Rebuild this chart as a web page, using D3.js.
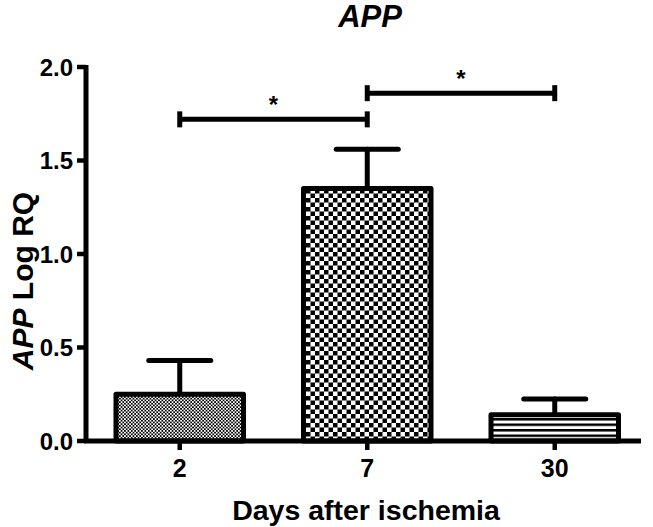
<!DOCTYPE html>
<html>
<head>
<meta charset="utf-8">
<script src="https://cdn.jsdelivr.net/npm/d3@7"></script>
<style>
  html, body { margin: 0; padding: 0; background: #fff; }
  svg { display: block; font-family: "Liberation Sans", Arial, sans-serif; }
</style>
</head>
<body>
<div id="chart"></div>
<script>
// data
const categories = ["2", "7", "30"];
const means = [0.25, 1.35, 0.14];
const errors = [0.18, 0.21, 0.085];
const patterns = ["fine", "coarse", "lines"];
const yTicks = [0, 0.5, 1.0, 1.5, 2.0];
const sigPairs = [["2", "7"], ["7", "30"]];
const sigHeights = [1.72, 1.86];
const sigLabels = ["*", "*"];

const W = 653, H = 527;
const svg = d3.select("#chart").append("svg")
  .attr("width", W).attr("height", H);

const defs = svg.append("defs");

// fine checker
const p1 = defs.append("pattern").attr("id", "fine")
  .attr("patternUnits", "userSpaceOnUse").attr("width", 3.4).attr("height", 3.4);
p1.append("rect").attr("width", 3.4).attr("height", 3.4).attr("fill", "#fff");
p1.append("rect").attr("width", 1.7).attr("height", 1.7).attr("fill", "#000");
p1.append("rect").attr("x", 1.7).attr("y", 1.7).attr("width", 1.7).attr("height", 1.7).attr("fill", "#000");

// coarse checker
const p2 = defs.append("pattern").attr("id", "coarse")
  .attr("patternUnits", "userSpaceOnUse").attr("width", 9).attr("height", 9);
p2.append("rect").attr("width", 9).attr("height", 9).attr("fill", "#fff");
p2.append("rect").attr("width", 4.5).attr("height", 4.5).attr("fill", "#000");
p2.append("rect").attr("x", 4.5).attr("y", 4.5).attr("width", 4.5).attr("height", 4.5).attr("fill", "#000");

// horizontal lines
const p3 = defs.append("pattern").attr("id", "lines")
  .attr("patternUnits", "userSpaceOnUse").attr("width", 6).attr("height", 5.5);
p3.append("rect").attr("width", 6).attr("height", 5.5).attr("fill", "#fff");
p3.append("rect").attr("y", 0).attr("width", 6).attr("height", 2.5).attr("fill", "#000");

const mLeft = 86, mBottom = 441, mTop = 67, mRight = 641;
const sw = 5;

const x = d3.scaleBand().domain(categories)
  .range([mLeft, 648.5]).paddingInner(0.32).paddingOuter(0.16);
const y = d3.scaleLinear().domain([0, 2]).range([mBottom, mTop]);

const data = categories.map((c, i) => ({ c, m: means[i], e: errors[i], p: patterns[i] }));

// error bars (upper only)
const eb = svg.append("g").attr("stroke", "#000").attr("stroke-width", sw).attr("stroke-linecap", "round");
data.forEach(d => {
  const cx = x(d.c) + x.bandwidth() / 2;
  eb.append("line").attr("x1", cx).attr("x2", cx).attr("y1", y(d.m)).attr("y2", y(d.m + d.e));
  eb.append("line").attr("x1", cx - 31).attr("x2", cx + 31).attr("y1", y(d.m + d.e)).attr("y2", y(d.m + d.e));
});

// bars
svg.append("g").selectAll("rect").data(data).join("rect")
  .attr("x", d => x(d.c))
  .attr("y", d => y(d.m))
  .attr("width", x.bandwidth())
  .attr("height", d => y(0) - y(d.m))
  .attr("fill", d => `url(#${d.p})`)
  .attr("stroke", "#000").attr("stroke-width", sw).attr("stroke-linejoin", "round");

// y axis
const ya = svg.append("g");
ya.append("line").attr("x1", mLeft).attr("x2", mLeft).attr("y1", mTop - 2).attr("y2", mBottom + 2)
  .attr("stroke", "#000").attr("stroke-width", sw);
ya.selectAll("line.tick").data(yTicks).join("line").attr("class", "tick")
  .attr("x1", mLeft - 9).attr("x2", mLeft).attr("y1", d => y(d)).attr("y2", d => y(d))
  .attr("stroke", "#000").attr("stroke-width", 4.5);
ya.selectAll("text").data(yTicks).join("text")
  .attr("x", mLeft - 13).attr("y", d => y(d)).attr("dy", "0.36em")
  .attr("text-anchor", "end").attr("font-size", 24).attr("font-weight", "bold")
  .text(d => d3.format(".1f")(d));

// x axis
const xa = svg.append("g");
xa.append("line").attr("x1", mLeft - 2).attr("x2", mRight).attr("y1", mBottom).attr("y2", mBottom)
  .attr("stroke", "#000").attr("stroke-width", sw);
xa.selectAll("line.tick").data(categories).join("line").attr("class", "tick")
  .attr("x1", d => x(d) + x.bandwidth() / 2).attr("x2", d => x(d) + x.bandwidth() / 2)
  .attr("y1", mBottom).attr("y2", mBottom + 9)
  .attr("stroke", "#000").attr("stroke-width", 4.5);
xa.selectAll("text").data(categories).join("text")
  .attr("x", d => x(d) + x.bandwidth() / 2).attr("y", mBottom + 36)
  .attr("text-anchor", "middle").attr("font-size", 25).attr("font-weight", "bold")
  .text(d => d);

// significance brackets
const sg = svg.append("g");
sigPairs.forEach((p, i) => {
  const x1 = x(p[0]) + x.bandwidth() / 2, x2 = x(p[1]) + x.bandwidth() / 2;
  const yy = y(sigHeights[i]);
  sg.append("line").attr("x1", x1).attr("x2", x2).attr("y1", yy).attr("y2", yy)
    .attr("stroke", "#000").attr("stroke-width", sw);
  [x1, x2].forEach(xx => sg.append("line").attr("x1", xx).attr("x2", xx)
    .attr("y1", yy - 8).attr("y2", yy + 8).attr("stroke", "#000").attr("stroke-width", sw));
  sg.append("text").attr("x", (x1 + x2) / 2).attr("y", yy - 6)
    .attr("text-anchor", "middle").attr("font-size", 24).attr("font-weight", "bold")
    .text(sigLabels[i]);
});

// title
svg.append("text").attr("x", 370).attr("y", 27)
  .attr("text-anchor", "middle").attr("font-size", 31).attr("font-weight", "bold").attr("font-style", "italic")
  .text("APP");

// y label
const yl = svg.append("text").attr("transform", `translate(33, ${(mTop + mBottom) / 2 + 27}) rotate(-90)`)
  .attr("text-anchor", "middle").attr("font-size", 30).attr("font-weight", "bold");
yl.append("tspan").attr("font-style", "italic").text("APP");
yl.append("tspan").text(" Log RQ");

// x label
svg.append("text").attr("x", 366).attr("y", 520)
  .attr("text-anchor", "middle").attr("font-size", 28.5).attr("font-weight", "bold")
  .text("Days after ischemia");
</script>
</body>
</html>
